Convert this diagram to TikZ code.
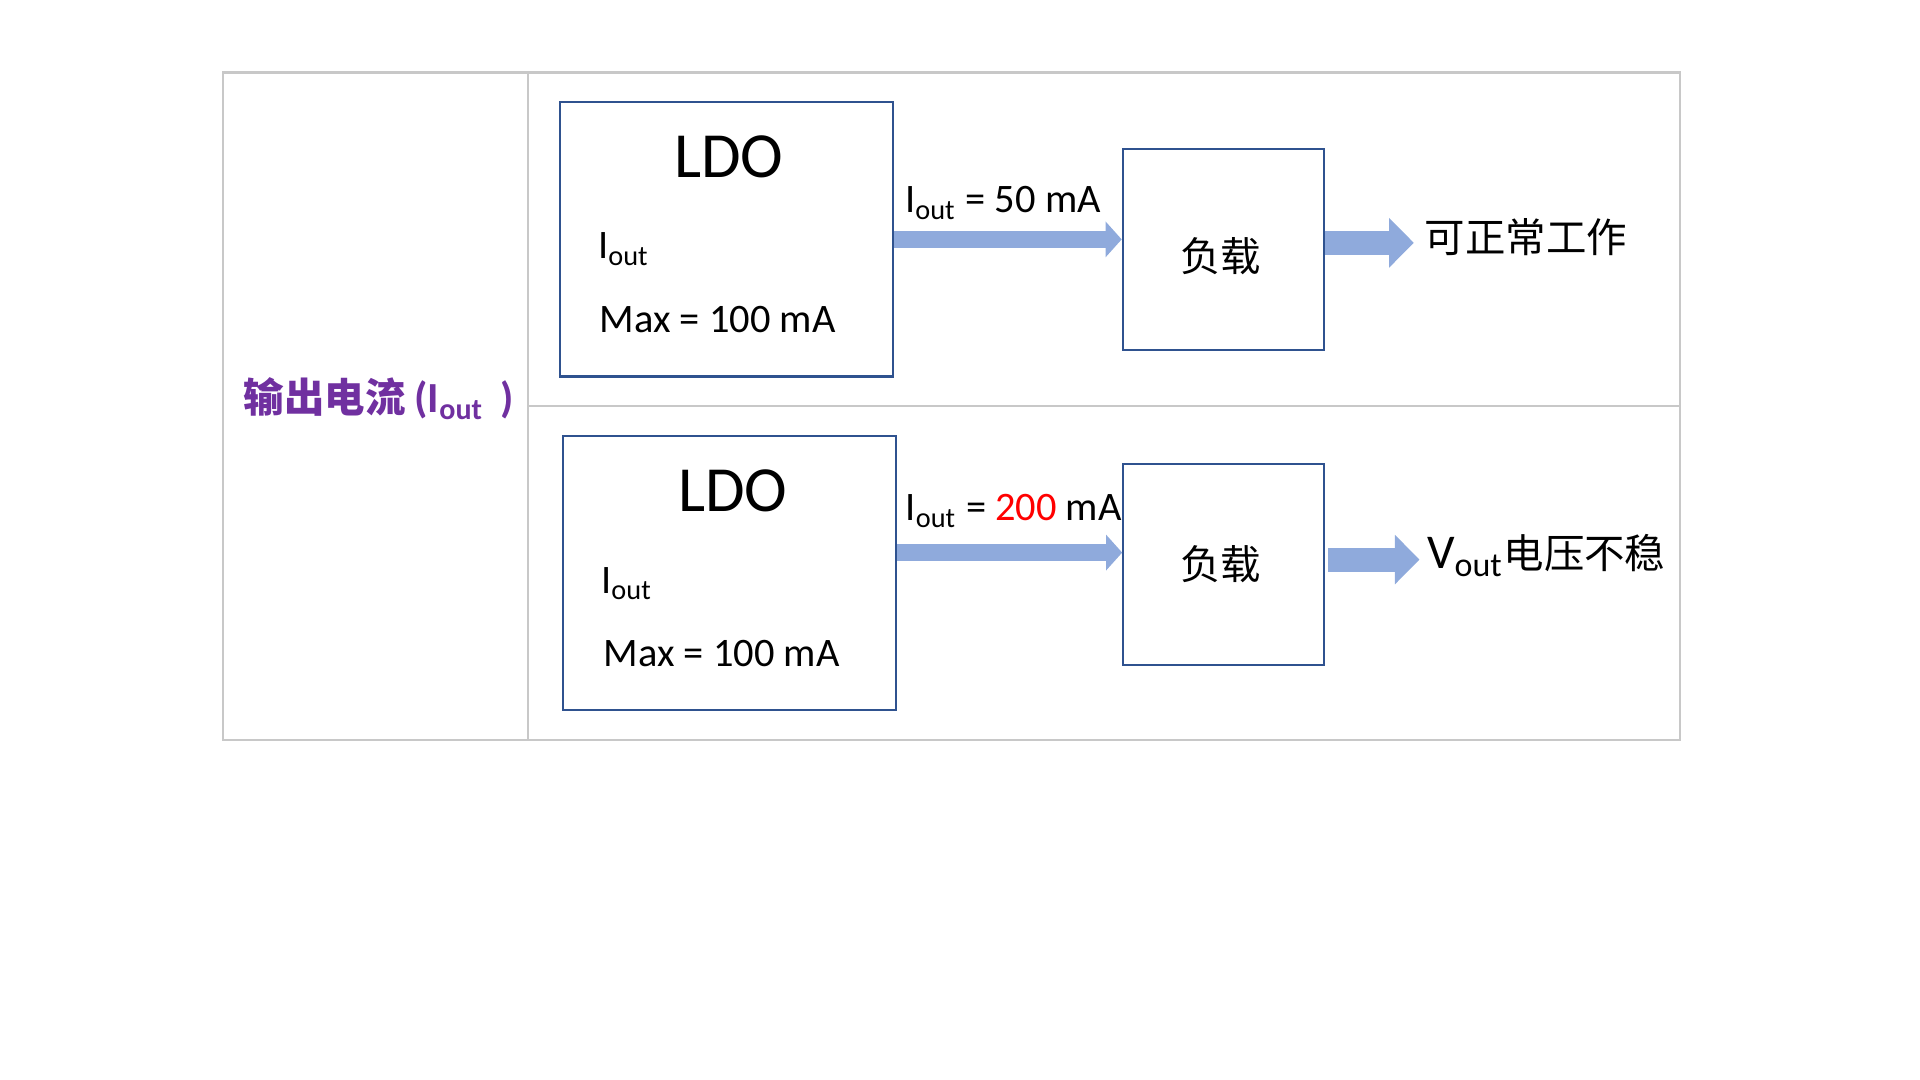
\documentclass[tikz,border=0pt]{standalone}
\usepackage{fontspec}
\setmainfont{Carlito}
\newfontfamily\cjk{Noto Sans CJK SC}
\usetikzlibrary{positioning,arrows.meta,calc}

\definecolor{boxblue}{HTML}{2F528F}
\definecolor{flowblue}{HTML}{8FAADC}
\definecolor{gridgray}{HTML}{C8C8C8}
\definecolor{tagpurple}{HTML}{7030A0}

\newcommand{\ldosize}{\fontsize{18.3}{22}\selectfont}
\newcommand{\txtsize}{\fontsize{11.5}{14}\selectfont}
\newcommand{\voutsize}{\fontsize{13.8}{16}\selectfont}

\tikzset{
  ldobox/.style={draw=boxblue,line width=0.6pt,minimum width=3.33cm,minimum height=2.74cm,inner sep=0pt},
  loadbox/.style={draw=boxblue,line width=0.6pt,minimum width=2.01cm,minimum height=2.01cm,inner sep=0pt},
  txt/.style={inner sep=0pt,font=\txtsize},
  flow/.style={draw=flowblue,line width=4.84pt,-{Triangle[length=4.6pt,width=9.96pt]}},
  bigflow/.style={draw=flowblue,line width=6.83pt,-{Triangle[length=7pt,width=13.7pt]}}
}

\begin{document}
\begin{tikzpicture}[x=0.01cm,y=-0.01cm]
    \useasboundingbox (0,0) rectangle (1920,1080);

    % table
    \draw[gridgray,line width=0.6pt] (223,72.5) rectangle (1680,740);
    \draw[gridgray,line width=0.6pt] (528,72.5) -- (528,740);
    \draw[gridgray,line width=0.6pt] (528,406) -- (1680,406);

    \node[txt,anchor=base west,text=tagpurple,font=\txtsize\bfseries] (tag) at (243,413)
        {{\cjk 输出电流} {\fontsize{12.2}{14}\selectfont(I\textsubscript{out}\ \,)}};

    % upper row
    \node[ldobox] (ldoA) at (726.2,239.4) {};
    \node[txt,anchor=base,font=\ldosize] (ldoAt) at (729,177.3) {LDO};
    \node[txt,anchor=base west] (ldoAi) at (597.5,259) {I\textsubscript{out}};
    \node[txt,anchor=base west] (ldoAm) at (599,332.7) {Max = 100 mA};

    \node[loadbox] (loadA) at (1223.3,249.8) {};
    \node[txt,anchor=base,font=\txtsize\cjk] (loadAt) at (1220.6,271.5) {负载};
    \node[txt,anchor=base west] (curA) at (904.5,212.7) {I\textsubscript{out} = 50 mA};
    \node[txt,anchor=base west,font=\txtsize\cjk] (okA) at (1424,253) {可正常工作};

    \coordinate (outA) at ($(loadA.east)+(0,-7)$);
    \draw[flow] (ldoA.east) -- (ldoA.east -| loadA.west);
    \draw[bigflow,shorten >=2.9pt] (outA) -- (outA -| okA.west);

    % lower row
    \node[ldobox] (ldoB) at (729.8,573.1) {};
    \node[txt,anchor=base,font=\ldosize] (ldoBt) at (732.9,511.7) {LDO};
    \node[txt,anchor=base west] (ldoBi) at (600.6,593.3) {I\textsubscript{out}};
    \node[txt,anchor=base west] (ldoBm) at (602.9,666.7) {Max = 100 mA};

    \node[loadbox] (loadB) at (1223.8,564.6) {};
    \node[txt,anchor=base,font=\txtsize\cjk] (loadBt) at (1220.5,579.5) {负载};
    \node[txt,anchor=base west] (curB) at (905,520.7) {I\textsubscript{out} = \textcolor{red}{200} mA};
    \node[txt,anchor=base west] (badB) at (1426.5,569) {{\voutsize V\textsubscript{out}}{\cjk 电压不稳}};

    \coordinate (inB) at ($(ldoB.east)+(0,-20.5)$);
    \coordinate (outB) at ($(loadB.east)+(3,-5)$);
    \draw[flow] (inB) -- (inB -| loadB.west);
    \draw[bigflow,shorten >=2pt] (outB) -- (outB -| badB.west);
\end{tikzpicture}
\end{document}
